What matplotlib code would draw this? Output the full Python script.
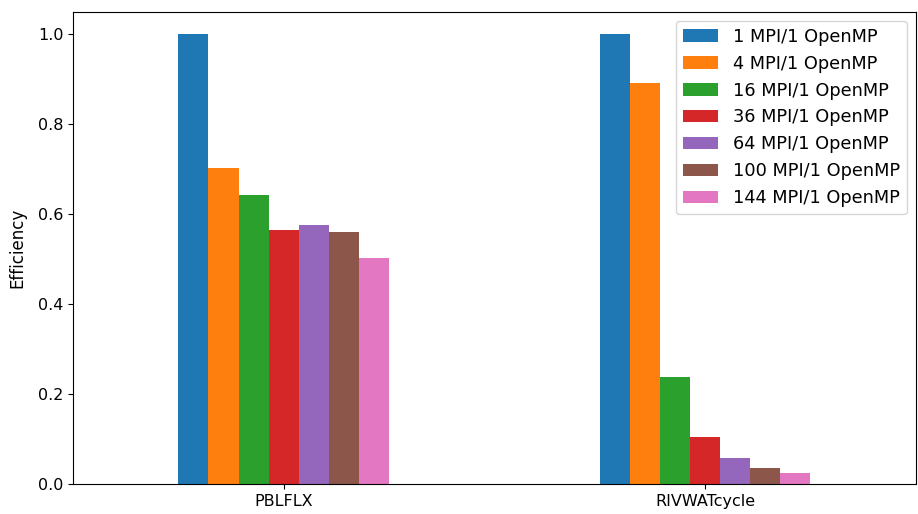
import numpy as np
import matplotlib
matplotlib.use('Agg')
import matplotlib.pyplot as plt

# Parallel efficiency per routine for each MPI/OpenMP configuration
routines = ['PBLFLX', 'RIVWATcycle']
configs = ['1 MPI/1 OpenMP', '4 MPI/1 OpenMP', '16 MPI/1 OpenMP', '36 MPI/1 OpenMP',
           '64 MPI/1 OpenMP', '100 MPI/1 OpenMP', '144 MPI/1 OpenMP']
pblflx = [1.0, 0.702, 0.642, 0.565, 0.576, 0.560, 0.502]
rivwatcycle = [1.0, 0.891, 0.238, 0.104, 0.058, 0.037, 0.024]

efficiency = np.array([pblflx, rivwatcycle])

fig = plt.figure(figsize=(9.18, 5.14), dpi=100)
ax = fig.add_axes([0.0795, 0.058, 0.918, 0.919])

n = len(configs)
width = 0.5 / n
x = np.arange(len(routines))
for i, label in enumerate(configs):
    offset = (i - (n - 1) / 2) * width
    ax.bar(x + offset, efficiency[:, i], width, label=label, color=f'C{i}')

ax.set_xticks(x)
ax.set_xticklabels(routines, fontsize=11.5)
ax.set_xlim(-0.5, len(routines) - 0.5)
ax.set_ylim(0, 1.05)
ax.set_yticks([0.0, 0.2, 0.4, 0.6, 0.8, 1.0])
ax.tick_params(axis='y', labelsize=11.5)
ax.set_ylabel('Efficiency', fontsize=12, labelpad=8)
ax.legend(loc='upper right', fontsize=12.8)

plt.savefig('out.png', dpi=100)
